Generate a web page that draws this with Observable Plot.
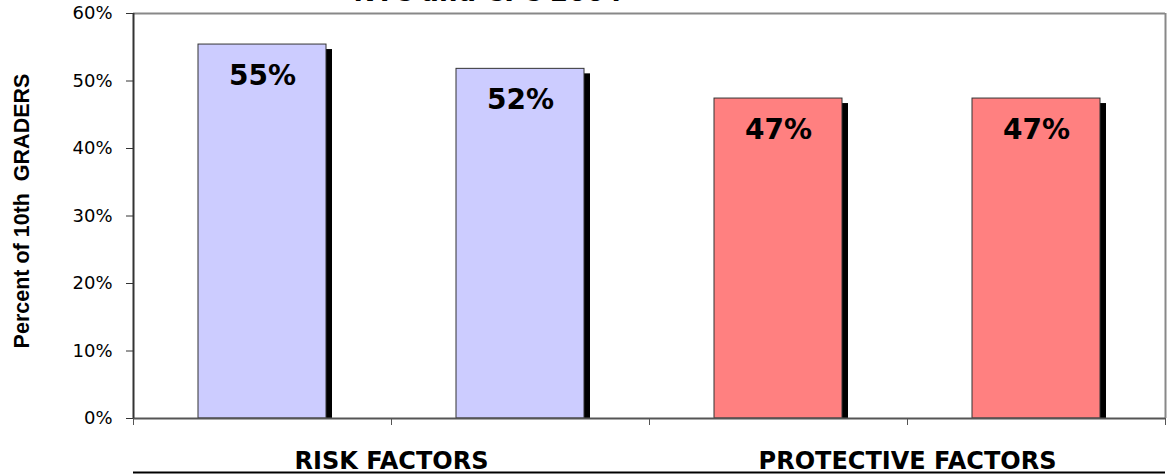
<!DOCTYPE html>
<html>
<head>
<meta charset="utf-8">
<script src="https://cdn.jsdelivr.net/npm/d3@7"></script>
<script src="https://cdn.jsdelivr.net/npm/@observablehq/plot@0.6"></script>
<style>
  html, body { margin: 0; padding: 0; background: #fff; }
  #wrap { position: relative; width: 1167px; height: 475px; overflow: hidden; }
  #title { position: absolute; left: 0; width: 976px; top: -22px; text-align: center;
           font: bold 26px "DejaVu Sans", Verdana, sans-serif; line-height: 28px; color: #000; }
</style>
</head>
<body>
<div id="wrap"><div id="title">NYC and CFC 2004</div><div id="chart"></div></div>
<script>
const categories = ["Risk factor 1", "Risk factor 2", "Protective factor 1", "Protective factor 2"];
const groups = ["RISK FACTORS", "RISK FACTORS", "PROTECTIVE FACTORS", "PROTECTIVE FACTORS"];
const values = [55.4, 51.8, 47.4, 47.4];
const barColors = ["#CCCCFF", "#CCCCFF", "#FF8080", "#FF8080"];
const groupLabels = ["RISK FACTORS", "PROTECTIVE FACTORS"];
const yTicks = [0, 10, 20, 30, 40, 50, 60];
const xTicks = [0, 1, 2, 3, 4];

const bars = categories.map((c, i) => ({
  category: c, group: groups[i], value: values[i], color: barColors[i], x1: i, x2: i + 1,
  label: Math.round(values[i]) + "%"
}));
const groupRows = groupLabels.map(g => {
  const idx = bars.filter(b => b.group === g).map(b => b.x1 + 0.5);
  return {group: g, x: d3.mean(idx)};
});

const inset = 65;
const chart = Plot.plot({
  width: 1167,
  height: 475,
  marginLeft: 133,
  marginRight: 2,
  marginTop: 13,
  marginBottom: 57,
  style: {fontFamily: "'DejaVu Sans', Verdana, sans-serif", background: "#fff", overflow: "visible"},
  x: {type: "linear", domain: [0, 4], axis: null},
  y: {domain: [0, 60], axis: null},
  marks: [
    // shadows
    Plot.rectY(bars, {x1: "x1", x2: "x2", y1: 0, y2: "value", fill: "black",
      insetLeft: inset + 6, insetRight: inset - 6, insetTop: 5}),
    // bars
    Plot.rectY(bars, {x1: "x1", x2: "x2", y1: 0, y2: "value", fill: "color",
      stroke: "#333", strokeWidth: 1, insetLeft: inset, insetRight: inset}),
    // frame top/right
    Plot.ruleY([60], {stroke: "#888", strokeWidth: 2}),
    Plot.ruleX([4], {stroke: "#888", strokeWidth: 2}),
    // axes lines
    Plot.ruleY([0], {stroke: "#555", strokeWidth: 2}),
    Plot.ruleX([0], {stroke: "#333", strokeWidth: 2}),
    Plot.axisY({ticks: yTicks, tickSize: 7, tickPadding: 14, tickFormat: d => d + "%",
      fontSize: 18, stroke: "#333", color: "#000", label: null}),
    Plot.axisX({ticks: xTicks, tickSize: 7, tickFormat: () => "", stroke: "#555", label: null}),
    // value labels
    Plot.text(bars, {x: d => (d.x1 + d.x2) / 2, y: "value", text: "label", dy: 31,
      fontSize: 28, fontWeight: "bold", fill: "#000", lineAnchor: "middle"}),
    // group labels
    Plot.text(groupRows, {x: "x", y: 0, text: "group", dy: 43, fontSize: 24, fontWeight: "bold",
      fill: "#000", lineAnchor: "middle"}),
    // bottom line under group labels
    Plot.ruleY([0], {x1: 0, x2: 4, dy: 54, stroke: "#000", strokeWidth: 2}),
    // y axis title
    Plot.text(["Percent of 10th  GRADERS"], {frameAnchor: "left", textAnchor: "middle", rotate: -90,
      dx: -111, dy: -5, fontSize: 21.5, fontWeight: "bold",
      fontFamily: "'Liberation Sans', Arial, sans-serif", fill: "#000", lineAnchor: "middle"})
  ]
});
document.getElementById("chart").appendChild(chart);
</script>
</body>
</html>
